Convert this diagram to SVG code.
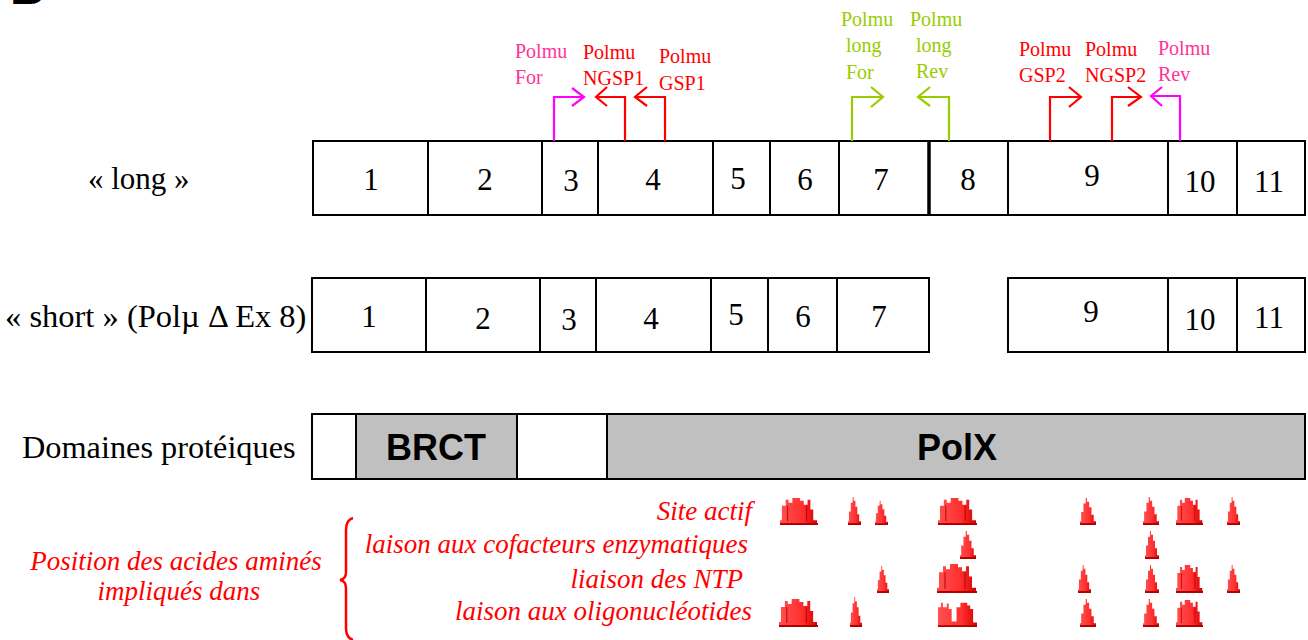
<svg xmlns="http://www.w3.org/2000/svg" width="1308" height="640" viewBox="0 0 1308 640">
<style>
.box{fill:#fff;stroke:#000;stroke-width:2}
.gbox{fill:#c0c0c0;stroke:#000;stroke-width:2}
.num{font-family:"Liberation Serif","Times New Roman",serif;font-size:31px;text-anchor:middle;fill:#000}
.lbl{font-family:"Liberation Serif","Times New Roman",serif;font-size:31px;fill:#000}
.pr{font-family:"Liberation Serif","Times New Roman",serif;font-size:20px}
.it{font-family:"Liberation Serif","Times New Roman",serif;font-style:italic;font-size:27px;fill:#f00}
.dom{font-family:"Liberation Sans",Arial,sans-serif;font-weight:bold;font-size:36px;text-anchor:middle;fill:#000}
.ar{fill:none;stroke-width:2.2}
.pk{stroke:#ff00ff}.rd{stroke:#f00}.gr{stroke:#99cc00}
.tpk{fill:#ff3399}.trd{fill:#f00}.tgr{fill:#99cc00}
</style>
<defs>
<linearGradient id="rg" x1="0" y1="0" x2="1" y2="0">
<stop offset="0" stop-color="#ff5050"/><stop offset="0.6" stop-color="#ff3030"/><stop offset="1" stop-color="#d80000"/>
</linearGradient>
<symbol id="narrow" viewBox="0 0 14 30" preserveAspectRatio="none">
<path d="M0,30 L0,26 L1,26 L1,16 L3,16 L3,7 L5,7 L5,1 L6,1 L6,5 L8,5 L8,11 L10,11 L10,19 L12,19 L12,26 L14,26 L14,30 Z" fill="url(#rg)"/>
<rect x="0" y="28" width="14" height="2" fill="#b00000"/>
</symbol>
<symbol id="wide" viewBox="0 0 40 30" preserveAspectRatio="none">
<path d="M0,30 L0,25 L2,25 L2,10 L6,10 L6,4 L9,4 L9,7 L13,7 L13,2 L21,2 L21,5 L25,5 L25,9 L29,9 L29,4 L32,4 L32,14 L35,14 L35,25 L39,25 L39,30 Z" fill="url(#rg)"/>
<rect x="0" y="28" width="40" height="2" fill="#b00000"/>
<path d="M8,10 V26 M28,10 V26" stroke="#c00000" stroke-width="1"/>
</symbol>
<symbol id="double" viewBox="0 0 40 30" preserveAspectRatio="none">
<path d="M0,30 L0,8 L3,8 L3,3 L5,3 L5,8 L9,8 L9,4 L11,4 L11,10 L14,10 L14,24 L19,24 L19,8 L23,8 L23,3 L30,3 L30,6 L33,6 L33,10 L36,10 L36,25 L40,25 L40,30 Z" fill="url(#rg)"/>
<rect x="0" y="28" width="40" height="2" fill="#b00000"/>
</symbol>
</defs>
<rect width="1308" height="640" fill="#fff"/>
<text x="10" y="4" font-family="Liberation Sans,sans-serif" font-weight="bold" font-size="48">B</text>

<text class="lbl" x="88" y="189">« long »</text>
<text class="lbl" x="5" y="327" style="font-size:32.5px">« short » (Polµ Δ Ex 8)</text>
<text class="lbl" x="22" y="458" style="font-size:32.3px">Domaines protéiques</text>

<g id="long-row">
<rect class="box" x="313" y="141" width="115" height="74"/>
<rect class="box" x="428" y="141" width="114" height="74"/>
<rect class="box" x="542" y="141" width="56" height="74"/>
<rect class="box" x="598" y="141" width="115" height="74"/>
<rect class="box" x="713" y="141" width="57" height="74"/>
<rect class="box" x="770" y="141" width="69" height="74"/>
<rect class="box" x="839" y="141" width="90" height="74"/>
<rect class="box" x="929" y="141" width="79" height="74"/>
<rect class="box" x="1008" y="141" width="160" height="74"/>
<rect class="box" x="1168" y="141" width="69" height="74"/>
<rect class="box" x="1237" y="141" width="68" height="74"/>
<line x1="929" y1="141" x2="929" y2="215" stroke="#000" stroke-width="3.5"/>
<text class="num" x="371" y="190">1</text>
<text class="num" x="485" y="190">2</text>
<text class="num" x="571" y="191">3</text>
<text class="num" x="653" y="190">4</text>
<text class="num" x="738" y="189">5</text>
<text class="num" x="805" y="190">6</text>
<text class="num" x="881" y="190">7</text>
<text class="num" x="968" y="190">8</text>
<text class="num" x="1092" y="186">9</text>
<text class="num" x="1200" y="192">10</text>
<text class="num" x="1269" y="192">11</text>
</g>

<g id="short-row">
<rect class="box" x="312" y="278" width="114" height="74"/>
<rect class="box" x="426" y="278" width="114" height="74"/>
<rect class="box" x="540" y="278" width="56" height="74"/>
<rect class="box" x="596" y="278" width="115" height="74"/>
<rect class="box" x="711" y="278" width="57" height="74"/>
<rect class="box" x="768" y="278" width="69" height="74"/>
<rect class="box" x="837" y="278" width="92" height="74"/>
<rect class="box" x="1008" y="278" width="160" height="74"/>
<rect class="box" x="1168" y="278" width="69" height="74"/>
<rect class="box" x="1237" y="278" width="68" height="74"/>
<text class="num" x="369" y="327">1</text>
<text class="num" x="483" y="329">2</text>
<text class="num" x="569" y="330">3</text>
<text class="num" x="651" y="329">4</text>
<text class="num" x="736" y="325">5</text>
<text class="num" x="803" y="327">6</text>
<text class="num" x="879" y="327">7</text>
<text class="num" x="1091" y="322">9</text>
<text class="num" x="1200" y="330">10</text>
<text class="num" x="1269" y="328">11</text>
</g>

<g id="domains">
<rect class="box" x="312" y="414" width="44" height="65"/>
<rect class="gbox" x="356" y="414" width="161" height="65"/>
<rect class="box" x="517" y="414" width="90" height="65"/>
<rect class="gbox" x="607" y="414" width="698" height="65"/>
<text class="dom" x="436" y="460">BRCT</text>
<text class="dom" x="957" y="460">PolX</text>
</g>

<g id="primer-labels">
<text class="pr tpk" x="515" y="58">Polmu</text>
<text class="pr tpk" x="515" y="84">For</text>
<text class="pr trd" x="583" y="59">Polmu</text>
<text class="pr trd" x="583" y="85">NGSP1</text>
<text class="pr trd" x="659" y="63">Polmu</text>
<text class="pr trd" x="659" y="90">GSP1</text>
<text class="pr tgr" x="841" y="26">Polmu</text>
<text class="pr tgr" x="846" y="52">long</text>
<text class="pr tgr" x="846" y="79">For</text>
<text class="pr tgr" x="910" y="26">Polmu</text>
<text class="pr tgr" x="916" y="52">long</text>
<text class="pr tgr" x="916" y="78">Rev</text>
<text class="pr trd" x="1019" y="56">Polmu</text>
<text class="pr trd" x="1019" y="82">GSP2</text>
<text class="pr trd" x="1085" y="56">Polmu</text>
<text class="pr trd" x="1085" y="82">NGSP2</text>
<text class="pr tpk" x="1158" y="55">Polmu</text>
<text class="pr tpk" x="1158" y="81">Rev</text>
</g>

<g id="connectors">
<polyline class="ar pk" points="554,141 554,97 583,97"/>
<polyline class="ar pk" points="572,88 584,97 572,106"/>
<polyline class="ar rd" points="625,141 625,97 596,97"/>
<polyline class="ar rd" points="607,87 596,97 607,106"/>
<polyline class="ar rd" points="665,141 665,97 635,97"/>
<polyline class="ar rd" points="647,87 635,97 647,106"/>
<polyline class="ar gr" points="852,141 852,97 882,97"/>
<polyline class="ar gr" points="871,87 883,97 871,107"/>
<polyline class="ar gr" points="949,141 949,97 918,97"/>
<polyline class="ar gr" points="930,87 918,97 930,106"/>
<polyline class="ar rd" points="1050,141 1050,97 1081,97"/>
<polyline class="ar rd" points="1069,87 1081,97 1069,107"/>
<polyline class="ar rd" points="1112,141 1112,97 1140,97"/>
<polyline class="ar rd" points="1128,87 1141,97 1128,106"/>
<polyline class="ar pk" points="1180,141 1180,96 1151,96"/>
<polyline class="ar pk" points="1162,87 1151,96 1162,106"/>
</g>

<g id="legend">
<text class="it" x="176" y="570" text-anchor="middle">Position des acides aminés</text>
<text class="it" x="179" y="600" text-anchor="middle">impliqués dans</text>
<path d="M353,518 Q346,520 346,530 L346,572 Q346,579 340,580 Q346,581 346,588 L346,628 Q346,638 353,640" fill="none" stroke="#f00" stroke-width="2.5"/>
<text class="it" x="752" y="520" text-anchor="end">Site actif</text>
<text class="it" x="748" y="553" text-anchor="end">laison aux cofacteurs enzymatiques</text>
<text class="it" x="743" y="588" text-anchor="end">liaison des NTP</text>
<text class="it" x="752" y="620" text-anchor="end">laison aux oligonucléotides</text>
</g>

<g id="markers">
<use href="#wide" x="780" y="496" width="38" height="29"/>
<use href="#narrow" x="848" y="496" width="13" height="29"/>
<use href="#narrow" x="875" y="500" width="13" height="25"/>
<use href="#wide" x="938" y="496" width="39" height="29"/>
<use href="#narrow" x="1080" y="497" width="16" height="28"/>
<use href="#narrow" x="1143" y="496" width="16" height="29"/>
<use href="#wide" x="1176" y="496" width="27" height="29"/>
<use href="#narrow" x="1227" y="496" width="13" height="29"/>

<use href="#narrow" x="960" y="530" width="16" height="29"/>
<use href="#narrow" x="1145" y="530" width="14" height="29"/>

<use href="#narrow" x="877" y="565" width="12" height="28"/>
<use href="#wide" x="937" y="562" width="40" height="31"/>
<use href="#narrow" x="1078" y="564" width="13" height="29"/>
<use href="#narrow" x="1145" y="564" width="14" height="29"/>
<use href="#wide" x="1176" y="563" width="27" height="30"/>
<use href="#narrow" x="1227" y="564" width="13" height="29"/>

<use href="#wide" x="779" y="597" width="39" height="30"/>
<use href="#narrow" x="850" y="596" width="12" height="31"/>
<use href="#double" x="938" y="600" width="39" height="27"/>
<use href="#narrow" x="1080" y="598" width="16" height="29"/>
<use href="#narrow" x="1143" y="598" width="16" height="29"/>
<use href="#wide" x="1176" y="598" width="27" height="29"/>
</g>
</svg>
